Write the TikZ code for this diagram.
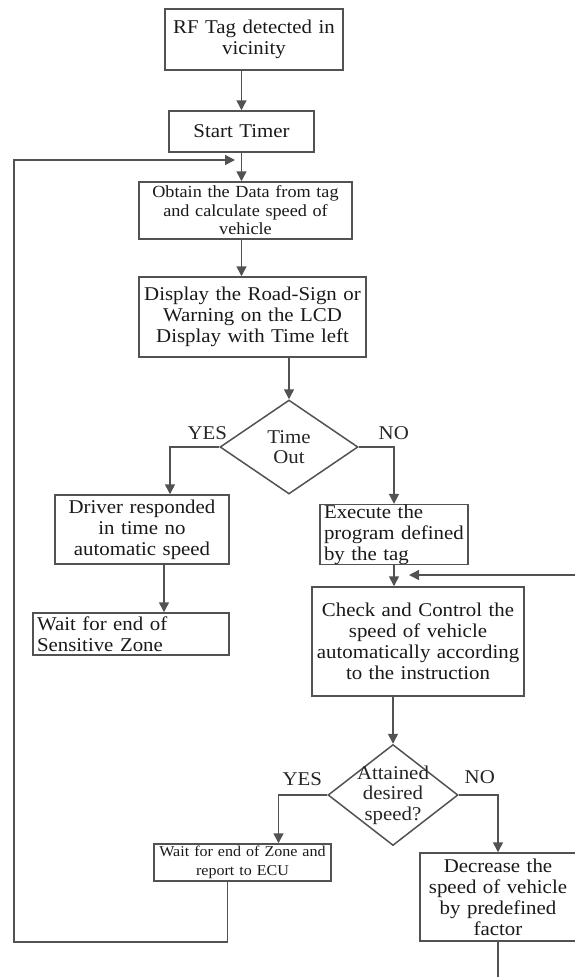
\documentclass[tikz,border=0pt]{standalone}
\usepackage{fontspec}
\setmainfont{Liberation Serif}[FakeStretch=1.07]
\usepackage{tikz}
\usetikzlibrary{arrows.meta}
\usetikzlibrary{calc}
\usetikzlibrary{shapes.geometric, arrows}
\tikzset{
  flowline/.style={draw=black!68, line width=1.5pt},
  procbox/.style={flowline, rectangle, inner xsep=4pt, inner ysep=0pt, align=center, text=black!90, font=\fontsize{19.5}{21}\selectfont},
  decision/.style={flowline, diamond, inner sep=0pt},
  arr/.style={flowline, -{Triangle[width=10pt,length=10pt]}},
  lbl/.style={inner sep=0pt, text=black!85, font=\fontsize{19.5}{20.5}\selectfont},
}

\begin{document}
\begin{tikzpicture}[x=1pt,y=-1pt]
        \newcommand{\flowloopx}{14}
        \newcommand{\flowloopy}{942}
        \newcommand{\flowloopiny}{160}
        \newcommand{\flowfby}{575}
        \useasboundingbox (0,0) rectangle (575,977);
        \clip (0,0) rectangle (575,977);
        \node[procbox, text width=170pt, minimum height=61pt] (tag) at (254,39.5) {RF Tag detected in\\vicinity\\[6pt]};
        \node[procbox, text width=137pt, minimum height=41pt] (timer) at (241.5,131.5) {Start Timer};
        \node[procbox, text width=205pt, minimum height=57pt, font=\fontsize{17}{18.5}\selectfont] (data) at (245.5,210.5) {Obtain the Data from tag\\and calculate speed of\\vehicle};
        \node[procbox, text width=219pt, minimum height=80pt] (display) at (252.5,317) {Display the Road-Sign or\\Warning on the LCD\\Display with Time left};
        \node[decision, minimum width=138pt, minimum height=94pt] (timeout) at (289,447) {};
        \node[lbl, align=center] (timeouttxt) at (timeout) {Time\\Out};
        \node[procbox, text width=166pt, minimum height=69pt] (driver) at (142,529.5) {Driver responded\\in time no\\automatic speed};
        \node[procbox, text width=188pt, minimum height=42pt, align=left] (sensitive) at (131,634) {Wait for end of\\Sensitive Zone};
        \node[procbox, text width=140pt, minimum height=59pt, align=left] (execute) at (394,534.5) {Execute the\\program defined\\by the tag};
        \node[procbox, text width=204pt, minimum height=109pt] (control) at (418,641.5) {Check and Control the\\speed of vehicle\\automatically according\\to the instruction\\[8pt]};
        \node[decision, minimum width=130pt, minimum height=101pt] (attained) at (393,795) {};
        \node[lbl, align=center] (attainedtxt) at (attained) {Attained\\desired\\speed?};
        \node[procbox, text width=169pt, minimum height=37pt, font=\fontsize{15}{19}\selectfont] (report) at (242.5,862.5) {Wait for end of Zone and\\report to ECU};
        \node[procbox, text width=148pt, minimum height=88pt] (decrease) at (498,897) {Decrease the\\speed of vehicle\\by predefined\\factor};
        \node[lbl] (yesa) at ([xshift=-12pt,yshift=14pt]timeout.west) {YES};
        \node[lbl] (noa) at ([xshift=35pt,yshift=14pt]timeout.east) {NO};
        \node[lbl] (yesb) at ([xshift=-25pt,yshift=16pt]attained.west) {YES};
        \node[lbl] (nob) at ([xshift=21pt,yshift=18pt]attained.east) {NO};
        \coordinate (loopin) at (235,\flowloopiny);
        \coordinate (loopcorner) at (\flowloopx,\flowloopy);
        \coordinate (fbout) at (577,\flowfby);
        \coordinate (fbin) at (409,\flowfby);
        \coordinate (fbdown) at (498,978);
        \draw[arr] (tag.south -| timer.north) -- (timer.north);
        \draw[arr] (timer.south) -- (timer.south |- data.north);
        \draw[arr] (timer.south |- data.south) -- (timer.south |- display.north);
        \draw[arr] (timeout.north |- display.south) -- (timeout.north);
        \draw[arr] (timeout.west) -| ([xshift=28pt]driver.north);
        \draw[arr] ([xshift=22pt]driver.south) -- ([xshift=22pt]driver.south |- sensitive.north);
        \draw[arr] (timeout.east) -| (execute.north);
        \draw[arr] (execute.south) -- (execute.south |- control.north);
        \draw[arr] (fbout) -- (fbin);
        \draw[arr] (control.south -| attained.north) -- (attained.north);
        \draw[arr] (attained.west) -| ([xshift=36pt]report.north);
        \draw[arr] (attained.east) -| (decrease.north);
        \draw[flowline] (decrease.south) -- (fbdown);
        \draw[arr] ([xshift=-15pt]report.south) |- (loopcorner) |- (loopin);
\end{tikzpicture}
\end{document}
